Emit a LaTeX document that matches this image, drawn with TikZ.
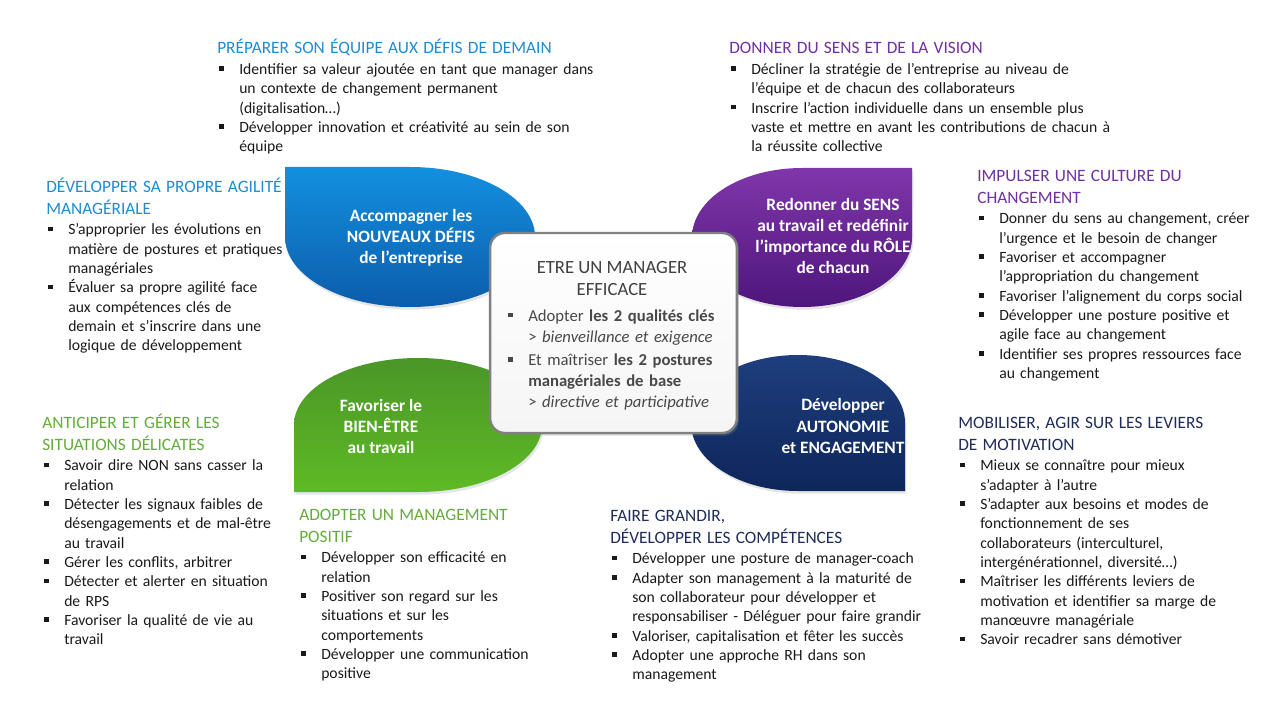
\documentclass[tikz,border=0pt]{standalone}
\usepackage{fontspec}
\setmainfont{Carlito}
\usetikzlibrary{shadows}
\definecolor{bluetop}{RGB}{18,144,222}
\definecolor{bluebot}{RGB}{12,92,172}
\definecolor{purptop}{RGB}{128,54,170}
\definecolor{purpbot}{RGB}{78,22,124}
\definecolor{greentop}{RGB}{74,150,40}
\definecolor{greenbot}{RGB}{94,186,36}
\definecolor{navytop}{RGB}{30,62,126}
\definecolor{navybot}{RGB}{14,38,90}
\definecolor{hblue}{RGB}{30,140,210}
\definecolor{hpurple}{RGB}{112,48,160}
\definecolor{hgreen}{RGB}{100,172,58}
\definecolor{hnavy}{RGB}{31,45,88}
\definecolor{bodytxt}{RGB}{26,26,26}
\definecolor{coretitle}{RGB}{64,64,64}
\definecolor{coretxt}{RGB}{72,72,72}
\definecolor{coreborder}{RGB}{128,128,128}
\newcommand\bsq{\raisebox{0.23em}{\rule{3.5pt}{3.5pt}}}
\newcommand\bli[1]{\par\noindent\makebox[16.5pt][l]{\hspace{1.5pt}\bsq}#1}
\newcommand\bcl[1]{\par\noindent\hspace*{16.5pt}#1}
\newcommand\hd[2]{{\fontsize{13}{16.1}\selectfont\color{#1}#2\par}\vspace{1.1pt}}
\tikzset{
  petal/.style={draw=none, drop shadow={opacity=0.2, shadow xshift=1pt, shadow yshift=-2pt}},
  petaltext/.style={align=center, text=white, inner sep=0pt, font=\fontsize{13}{15.8}\selectfont\bfseries},
  block/.style={anchor=base west, inner sep=0pt, text width=320pt, align=left, text=bodytxt, font=\fontsize{11.75}{14.5}\selectfont},
  corebox/.style={draw=coreborder, line width=1.8pt, rounded corners=11pt, top color=white, bottom color=black!4,
     drop shadow={opacity=0.3, shadow xshift=1.5pt, shadow yshift=-2pt}, minimum width=185pt, minimum height=150pt},
}
\begin{document}
\begin{tikzpicture}[x=0.75pt,y=-0.75pt]
\fill[white] (0,0) rectangle (1280,720);
\useasboundingbox (0,0) rectangle (1280,720);
% petals
\path[petal, top color=bluetop, bottom color=bluebot] (410,167) arc[start angle=-90,end angle=180,x radius=125,y radius=70] -- (285,167) -- cycle;
\path[petal, top color=purptop, bottom color=purpbot] (912,237.5) arc[start angle=0,end angle=270,x radius=110,y radius=69.5] -- (912,168) -- cycle;
\path[petal, top color=greentop, bottom color=greenbot] (294,425) arc[start angle=180,end angle=450,x radius=124,y radius=67] -- (294,492) -- cycle;
\path[petal, top color=navytop, bottom color=navybot] (798,491) arc[start angle=90,end angle=360,x radius=107,y radius=68] -- (905,491) -- cycle;
\node[petaltext] (ptblue) at (411,238) {Accompagner les\\NOUVEAUX DÉFIS\\de l’entreprise};
\node[petaltext] (ptpurple) at (833,236) {Redonner du SENS\\au travail et redéfinir\\l’importance du RÔLE\\de chacun};
\node[petaltext] (ptgreen) at (381,426.5) {Favoriser le\\BIEN-ÊTRE\\au travail};
\node[petaltext] (ptnavy) at (843,426) {Développer\\AUTONOMIE\\et ENGAGEMENT};
% center box
\node[corebox] (core) at (613.5,333) {};
\node[align=center, inner sep=0pt, text=coretitle, font=\fontsize{14}{16.5}\selectfont] (coretitlenode) at (612,279) {ETRE UN MANAGER\\EFFICACE};
\node[block, text=coretxt, font=\fontsize{12.5}{15.75}\selectfont] (corelist) at (506,300) {%
\bli{Adopter \textbf{les 2 qualités clés}}
\bcl{> \textit{bienveillance et exigence}}\par\vspace{2.2pt}
\bli{Et maîtriser \textbf{les 2 postures}}
\bcl{\textbf{managériales de base}}
\bcl{> \textit{directive et participative}}\par};
% text blocks
\node[block] (b1) at (217,53.6) {%
\hd{hblue}{PRÉPARER SON ÉQUIPE AUX DÉFIS DE DEMAIN}
\bli{Identifier sa valeur ajoutée en tant que manager dans}
\bcl{un contexte de changement permanent}
\bcl{(digitalisation…)}
\bli{Développer innovation et créativité au sein de son}
\bcl{équipe}\par};
\node[block] (b2) at (729,53.6) {%
\hd{hpurple}{DONNER DU SENS ET DE LA VISION}
\bli{Décliner la stratégie de l’entreprise au niveau de}
\bcl{l’équipe et de chacun des collaborateurs}
\bli{Inscrire l’action individuelle dans un ensemble plus}
\bcl{vaste et mettre en avant les contributions de chacun à}
\bcl{la réussite collective}\par};
\node[block] (b3) at (46,192.6) {%
\hd{hblue}{DÉVELOPPER SA PROPRE AGILITÉ\\MANAGÉRIALE}
\bli{S’approprier les évolutions en}
\bcl{matière de postures et pratiques}
\bcl{managériales}
\bli{Évaluer sa propre agilité face}
\bcl{aux compétences clés de}
\bcl{demain et s’inscrire dans une}
\bcl{logique de développement}\par};
\node[block] (b4) at (977,181.6) {%
\hd{hpurple}{IMPULSER UNE CULTURE DU\\CHANGEMENT}
\bli{Donner du sens au changement, créer}
\bcl{l’urgence et le besoin de changer}
\bli{Favoriser et accompagner}
\bcl{l’appropriation du changement}
\bli{Favoriser l’alignement du corps social}
\bli{Développer une posture positive et}
\bcl{agile face au changement}
\bli{Identifier ses propres ressources face}
\bcl{au changement}\par};
\node[block] (b5) at (42,428.6) {%
\hd{hgreen}{ANTICIPER ET GÉRER LES\\SITUATIONS DÉLICATES}
\bli{Savoir dire NON sans casser la}
\bcl{relation}
\bli{Détecter les signaux faibles de}
\bcl{désengagements et de mal-être}
\bcl{au travail}
\bli{Gérer les conflits, arbitrer}
\bli{Détecter et alerter en situation}
\bcl{de RPS}
\bli{Favoriser la qualité de vie au}
\bcl{travail}\par};
\node[block] (b6) at (299,520.6) {%
\hd{hgreen}{ADOPTER UN MANAGEMENT\\POSITIF}
\bli{Développer son efficacité en}
\bcl{relation}
\bli{Positiver son regard sur les}
\bcl{situations et sur les}
\bcl{comportements}
\bli{Développer une communication}
\bcl{positive}\par};
\node[block] (b7) at (610,521.6) {%
\hd{hnavy}{FAIRE GRANDIR,\\DÉVELOPPER LES COMPÉTENCES}
\bli{Développer une posture de manager-coach}
\bli{Adapter son management à la maturité de}
\bcl{son collaborateur pour développer et}
\bcl{responsabiliser - Déléguer pour faire grandir}
\bli{Valoriser, capitalisation et fêter les succès}
\bli{Adopter une approche RH dans son}
\bcl{management}\par};
\node[block] (b8) at (958,428.6) {%
\hd{hnavy}{MOBILISER, AGIR SUR LES LEVIERS\\DE MOTIVATION}
\bli{Mieux se connaître pour mieux}
\bcl{s’adapter à l’autre}
\bli{S’adapter aux besoins et modes de}
\bcl{fonctionnement de ses}
\bcl{collaborateurs (interculturel,}
\bcl{intergénérationnel, diversité…)}
\bli{Maîtriser les différents leviers de}
\bcl{motivation et identifier sa marge de}
\bcl{manœuvre managériale}
\bli{Savoir recadrer sans démotiver}\par};
\end{tikzpicture}
\end{document}
